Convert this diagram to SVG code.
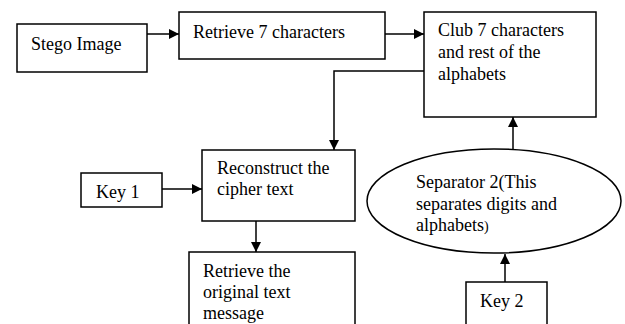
<svg xmlns="http://www.w3.org/2000/svg" width="625" height="324" viewBox="0 0 625 324">
<style>
.b{fill:#fff;stroke:#000;stroke-width:1.5}
.c{fill:none;stroke:#000;stroke-width:1.5}
</style>
<defs>
<marker id="a" viewBox="0 0 10 10" refX="10" refY="5" markerWidth="10" markerHeight="10" markerUnits="userSpaceOnUse" orient="auto"><path d="M0,0L10,5L0,10z" fill="#000"/></marker>
</defs>
<rect width="625" height="324" fill="#fff"/>
<g font-family="'Liberation Serif', 'Times New Roman', serif" font-size="18" fill="#000">
<g id="stego"><rect class="b" x="17" y="24" width="130" height="48"/><text x="31" y="50">Stego Image</text></g>
<g id="retrieve7"><rect class="b" x="179" y="12" width="206" height="47"/><text x="193" y="38">Retrieve 7 characters</text></g>
<g id="club"><rect class="b" x="424" y="12" width="172" height="105"/><text x="438" y="36">Club 7 characters</text><text x="438" y="58">and rest of the</text><text x="438" y="80">alphabets</text></g>
<g id="reconstruct"><rect class="b" x="202" y="150" width="153" height="71"/><text x="217" y="174">Reconstruct the</text><text x="217" y="195">cipher text</text></g>
<g id="key1"><rect class="b" x="81" y="173" width="81" height="34"/><text x="96" y="198">Key 1</text></g>
<g id="original"><rect class="b" x="189" y="252" width="166" height="80"/><text x="203" y="277">Retrieve the</text><text x="203" y="298">original text</text><text x="203" y="319">message</text></g>
<g id="separator"><ellipse class="b" cx="494" cy="201" rx="127" ry="52"/><text x="416" y="188">Separator 2(This</text><text x="416" y="210">separates digits and</text><text x="416" y="231">alphabets<tspan font-size="14">)</tspan></text></g>
<g id="key2"><rect class="b" x="466" y="282" width="81" height="50"/><text x="480" y="307">Key 2</text></g>
</g>
<g id="connectors">
<path class="c" d="M147,34H179" marker-end="url(#a)"/>
<path class="c" d="M385,34H424" marker-end="url(#a)"/>
<path class="c" d="M424,71H334V150" marker-end="url(#a)"/>
<path class="c" d="M162,189H202" marker-end="url(#a)"/>
<path class="c" d="M256,221V252" marker-end="url(#a)"/>
<path class="c" d="M513,149V117" marker-end="url(#a)"/>
<path class="c" d="M505,282V254" marker-end="url(#a)"/>
</g>
</svg>
